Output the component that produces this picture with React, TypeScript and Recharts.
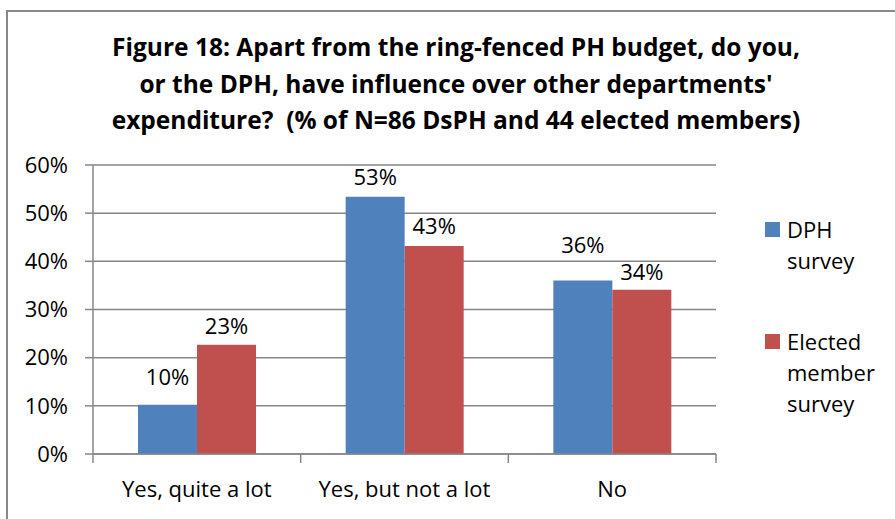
import { BarChart, Bar, XAxis, YAxis, CartesianGrid, Legend, LabelList } from 'recharts';

// categories and series (percent of respondents)
const categories = ['Yes, quite a lot', 'Yes, but not a lot', 'No'];
const dphSurvey = [10.2, 53.4, 36.0];
const electedSurvey = [22.7, 43.2, 34.1];
const seriesNames = ['DPH survey', 'Elected member survey'];
const yTicks = [0, 10, 20, 30, 40, 50, 60];
const titleLines = [
  'Figure 18: Apart from the ring-fenced PH budget, do you,',
  "or the DPH, have influence over other departments'",
  'expenditure?  (% of N=86 DsPH and 44 elected members)',
];

// labels in the original were nudged by hand a little
const dphLabelGap = [20, 12, 28];
const electedLabelGap = [11, 12, 10];

const FONT = '"Open Sans", "Liberation Sans", sans-serif';
const TEXT_SIZE = 22;
const BLUE = '#4F81BD';
const RED = '#C0504D';
const GRID = '#878787';

const data = categories.map((name, i) => ({
  name,
  dph: dphSurvey[i],
  elected: electedSurvey[i],
}));

const makeLabel = (gaps: number[]) => (props: any) => {
  const { x, y, width, value, index } = props;
  return (
    <text
      x={x + width / 2}
      y={y - gaps[index]}
      textAnchor="middle"
      fontSize={TEXT_SIZE}
      fontFamily={FONT}
      fill="#000"
    >
      {Math.round(value)}%
    </text>
  );
};

const CategoryTick = (props: any) => {
  const { x, y, payload, index } = props;
  const half = payload.offset || 0;
  return (
    <g>
      <line x1={x - half} x2={x - half} y1={y - 9} y2={y} stroke={GRID} strokeWidth={1.5} />
      {index === categories.length - 1 && (
        <line x1={x + half} x2={x + half} y1={y - 9} y2={y} stroke={GRID} strokeWidth={1.5} />
      )}
      <text x={x} y={y + 34} textAnchor="middle" fontSize={TEXT_SIZE} fontFamily={FONT} fill="#000">
        {payload.value}
      </text>
    </g>
  );
};

const renderLegend = () => (
  <div style={{ fontFamily: FONT, fontSize: TEXT_SIZE, color: '#000' }}>
    {seriesNames.map((n, i) => (
      <div key={n} style={{ display: 'flex', alignItems: 'flex-start', marginBottom: 50 }}>
        <div
          style={{
            width: 15,
            height: 15,
            background: i === 0 ? BLUE : RED,
            marginTop: 8,
            marginRight: 7,
            flexShrink: 0,
          }}
        />
        <div style={{ width: 104, lineHeight: '31px' }}>{n}</div>
      </div>
    ))}
  </div>
);

export default function App() {
  return (
    <div
      style={{
        position: 'fixed',
        left: 0,
        top: 0,
        width: 895,
        height: 519,
        background: '#fff',
        overflow: 'hidden',
      }}
    >
      {/* chart area frame, only left and top edges are visible */}
      <div
        style={{
          position: 'absolute',
          left: 6,
          top: 10,
          width: 1000,
          height: 600,
          border: `2px solid ${GRID}`,
        }}
      />
      <div
        style={{
          position: 'absolute',
          left: 0,
          top: 29,
          width: 912,
          textAlign: 'center',
          fontFamily: FONT,
          fontWeight: 'bold',
          fontSize: 24.5,
          lineHeight: '36.5px',
          color: '#000',
        }}
      >
        {titleLines.map((l) => (
          <div key={l} style={{ whiteSpace: 'pre' }}>{l}</div>
        ))}
      </div>
      <div style={{ position: 'absolute', left: 0, top: 0 }}>
        <BarChart
          width={895}
          height={519}
          data={data}
          margin={{ top: 165, right: 179, left: 0, bottom: 25 }}
          barCategoryGap={45}
          barGap={0}
        >
          <CartesianGrid vertical={false} stroke={GRID} strokeWidth={1.5} />
          <XAxis
            dataKey="name"
            height={40}
            stroke={GRID}
            strokeWidth={1.5}
            tickLine={false}
            tickSize={9}
            tickMargin={0}
            tick={<CategoryTick />}
            interval={0}
          />
          <YAxis
            width={93}
            domain={[0, 60]}
            ticks={yTicks}
            tickFormatter={(v) => `${v}%`}
            stroke={GRID}
            strokeWidth={1.5}
            tickSize={8}
            tickMargin={17}
            tick={{ fontSize: TEXT_SIZE, fill: '#000', fontFamily: FONT }}
          />
          <Legend
            layout="vertical"
            align="center"
            verticalAlign="middle"
            wrapperStyle={{ left: 765, top: 214, width: 130 }}
            content={renderLegend}
          />
          <Bar dataKey="dph" name={seriesNames[0]} fill={BLUE} isAnimationActive={false}>
            <LabelList dataKey="dph" content={makeLabel(dphLabelGap)} />
          </Bar>
          <Bar dataKey="elected" name={seriesNames[1]} fill={RED} isAnimationActive={false}>
            <LabelList dataKey="elected" content={makeLabel(electedLabelGap)} />
          </Bar>
        </BarChart>
      </div>
    </div>
  );
}
